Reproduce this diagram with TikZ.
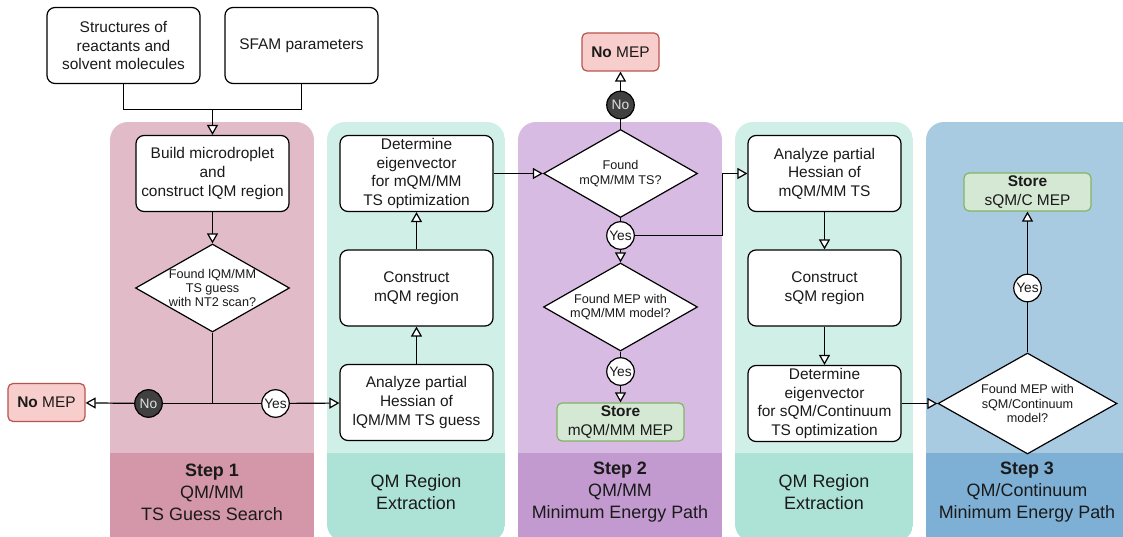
\documentclass[tikz,border=0pt]{standalone}
\usepackage{fontspec}
\setmainfont{Liberation Sans}
\usetikzlibrary{arrows.meta,shapes.geometric}
\definecolor{pinkL}{HTML}{E2BBC8}
\definecolor{pinkD}{HTML}{D397A9}
\definecolor{tealL}{HTML}{D0EFE6}
\definecolor{tealD}{HTML}{ADE3D6}
\definecolor{purpL}{HTML}{D7BBE2}
\definecolor{purpD}{HTML}{C29ACF}
\definecolor{blueL}{HTML}{A9CBE2}
\definecolor{blueD}{HTML}{7EB0D5}
\definecolor{noGray}{HTML}{404040}
\definecolor{noText}{HTML}{E0E0E0}
\definecolor{redF}{HTML}{F8CECC}
\definecolor{redS}{HTML}{B85450}
\definecolor{greenF}{HTML}{D5E8D4}
\definecolor{greenS}{HTML}{82B366}
\definecolor{ink}{HTML}{1A1A1A}
\begin{document}
\begin{tikzpicture}[x=1bp,y=-1bp,
 box/.style={draw, line width=1.2bp, rounded corners=8bp, fill=white, minimum width=153bp, minimum height=76bp, align=center, inner sep=1pt, text=ink, font=\fontsize{15.5}{18.7}\selectfont},
 dia/.style={diamond, draw, line width=1.2bp, fill=white, minimum width=154bp, minimum height=88bp, inner sep=0pt},
 dtext/.style={align=center, inner sep=0pt, text=ink, font=\fontsize{12.7}{14.5}\selectfont},
 yesc/.style={circle, draw, line width=1.2bp, fill=white, minimum size=27.5bp, inner sep=0pt, text=ink, font=\fontsize{13.8}{15}\selectfont},
 noc/.style={yesc, fill=noGray, text=noText},
 nomep/.style={draw=redS, fill=redF, line width=1.2bp, rounded corners=5bp, minimum width=77bp, minimum height=38bp, inner sep=1pt, text=ink, font=\fontsize{15.5}{18}\selectfont},
 store/.style={draw=greenS, fill=greenF, line width=1.2bp, rounded corners=5bp, minimum width=127bp, minimum height=38bp, inner sep=1pt, align=center, text=ink, font=\fontsize{15.5}{18.5}\selectfont},
 con/.style={line width=1.2bp},
 arr/.style={line width=1.2bp, -{Triangle[length=10bp,width=11bp,fill=white]}},
 plabel/.style={align=center, inner sep=0pt, text=ink, font=\fontsize{18}{22}\selectfont},
]
\useasboundingbox (0,0) rectangle (1123,537);
% ---------- panels ----------
\begin{scope}
\clip (0,0) rectangle (1123,537);
\begin{scope}
 \clip[rounded corners=18bp] (110,122) rectangle (314,580);
 \fill[pinkL] (110,122) rectangle (314,453);
 \fill[pinkD] (110,453) rectangle (314,580);
\end{scope}
\begin{scope}
 \clip[rounded corners=18bp] (327,122) rectangle (505,542);
 \fill[tealL] (327,122) rectangle (505,453);
 \fill[tealD] (327,453) rectangle (505,580);
\end{scope}
\begin{scope}
 \clip[rounded corners=18bp] (518,122) rectangle (722,580);
 \fill[purpL] (518,122) rectangle (722,453);
 \fill[purpD] (518,453) rectangle (722,580);
\end{scope}
\begin{scope}
 \clip[rounded corners=18bp] (735,122) rectangle (913,542);
 \fill[tealL] (735,122) rectangle (913,453);
 \fill[tealD] (735,453) rectangle (913,580);
\end{scope}
\begin{scope}
 \clip[rounded corners=18bp] (926,122) rectangle (1160,580);
 \fill[blueL] (926,122) rectangle (1160,453);
 \fill[blueD] (926,453) rectangle (1160,580);
\end{scope}
\end{scope}
% ---------- panel labels ----------
\node[plabel] (p1) at (212,492) {\textbf{Step 1}\\QM/MM\\TS Guess Search};
\node[plabel] (p2) at (416,492) {QM Region\\Extraction};
\node[plabel] (p3) at (620,492) {\textbf{Step 2}\\QM/MM\\Minimum Energy Path};
\node[plabel] (p4) at (824,492) {QM Region\\Extraction};
\node[plabel] (p5) at (1027,492) {\textbf{Step 3}\\QM/Continuum\\Minimum Energy Path};
% ---------- nodes ----------
\node[box] (s1) at (123.5,45.5) {Structures of\\reactants and\\solvent molecules};
\node[box] (s2) at (301.5,45.5) {SFAM parameters};
\node[box] (build) at (212.5,173.5) {Build microdroplet\\and\\construct lQM region};
\node[dia] (d1) at (212.5,288) {};
\node[dtext] (t1) at (d1) {Found lQM/MM\\TS guess\\with NT2 scan?};
\coordinate (j1) at (212.5,109.5);
\coordinate (j2) at (212.5,403.5);
\node[noc] (no1) at (148.5,403.5) {No};
\node[yesc] (yes1) at (275.5,403.5) {Yes};
\node[nomep] (nm1) at (46.5,402.5) {\textbf{No} MEP};
\node[box] (an1) at (416.5,402.5) {Analyze partial\\Hessian of\\lQM/MM TS guess};
\node[box] (cm1) at (416.5,288) {Construct\\mQM region};
\node[box] (det1) at (416.5,173.5) {Determine\\eigenvector\\for mQM/MM\\TS optimization};
\node[dia] (d2) at (620.5,173.5) {};
\node[dtext] (t2) at (d2) {Found\\mQM/MM TS?};
\node[noc] (no2) at (620.5,105) {No};
\node[nomep] (nm2) at (620.5,52) {\textbf{No} MEP};
\node[yesc] (yes2) at (620.5,235.5) {Yes};
\coordinate (c1) at (722.5,235.5);
\node[dia] (d3) at (620.5,307) {};
\node[dtext] (t3) at (d3) {Found MEP with\\mQM/MM model?};
\node[yesc] (yes3) at (620.5,371.5) {Yes};
\node[store] (st2) at (620.5,422) {\textbf{Store}\\mQM/MM MEP};
\node[box] (an2) at (824.5,173.5) {Analyze partial\\Hessian of\\mQM/MM TS};
\node[box] (cs) at (824.5,288) {Construct\\sQM region};
\node[box] (det2) at (824.5,403.5) {Determine\\eigenvector\\for sQM/Continuum\\TS optimization};
\node[dia, minimum width=179bp, minimum height=101bp] (d4) at (1027.5,403.5) {};
\node[dtext] (t4) at (d4) {Found MEP with\\sQM/Continuum\\model?};
\node[yesc] (yes4) at (1027.5,288) {Yes};
\node[store] (st3) at (1027.5,192) {\textbf{Store}\\sQM/C MEP};
% ---------- connectors ----------
\draw[con] (s1.south) |- (j1) -| (s2.south);
\draw[arr] (j1) -- (build.north);
\draw[arr] (build.south) -- (d1.north);
\draw[con] (d1.south) -- (j2);
\draw[con] (j2) -- (no1);
\draw[arr] (no1) -- (nm1);
\draw[con] (j2) -- (yes1);
\draw[arr] (yes1) -- (an1);
\draw[arr] (an1) -- (cm1);
\draw[arr] (cm1) -- (det1);
\draw[arr] (det1.east) -- (d2.west);
\draw[con] (d2.north) -- (no2);
\draw[arr] (no2) -- (nm2);
\draw[con] (d2.south) -- (yes2);
\draw[arr] (yes2.east) -- (c1) |- (an2.west);
\draw[arr] (yes2) -- (d3.north);
\draw[con] (d3.south) -- (yes3);
\draw[arr] (yes3) -- (st2);
\draw[arr] (an2) -- (cs);
\draw[arr] (cs) -- (det2);
\draw[arr] (det2.east) -- (d4.west);
\draw[con] (d4.north) -- (yes4);
\draw[arr] (yes4) -- (st3);
\end{tikzpicture}
\end{document}
